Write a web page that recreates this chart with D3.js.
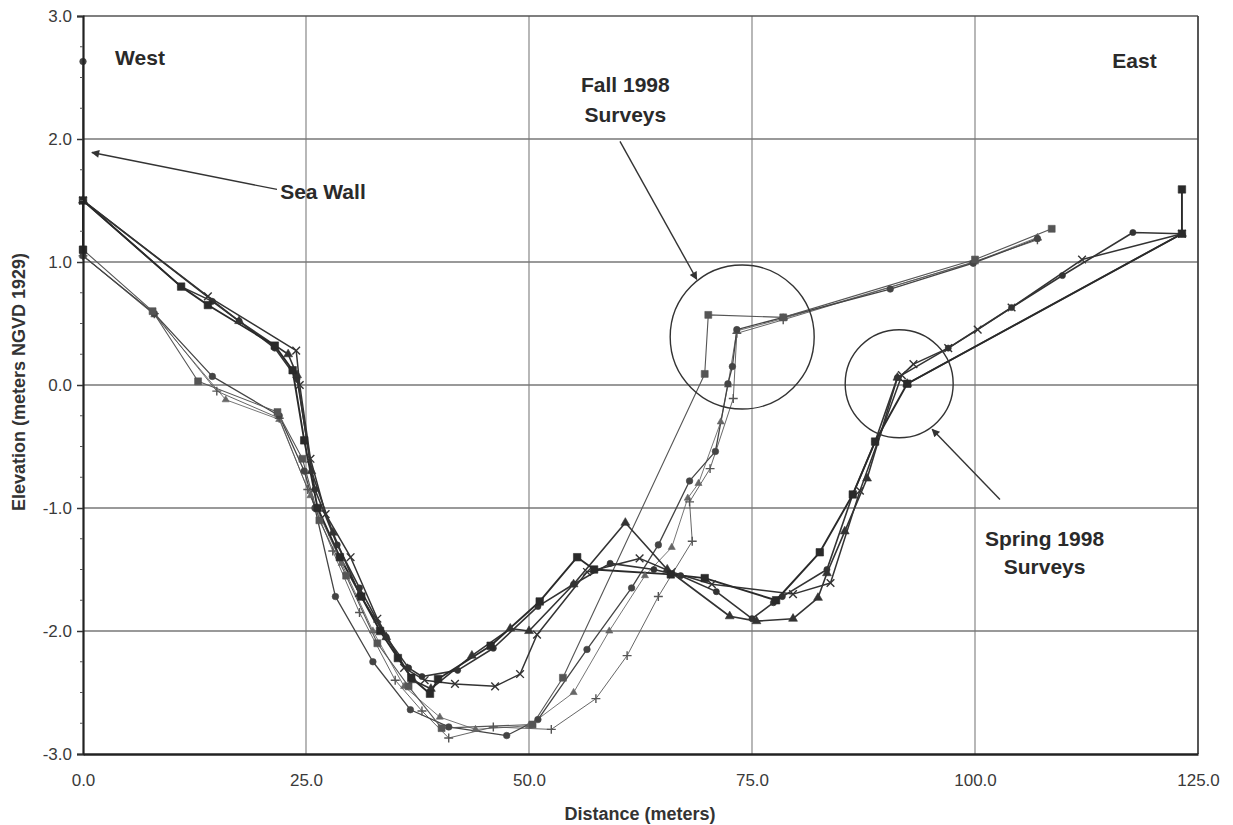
<!DOCTYPE html>
<html>
<head>
<meta charset="utf-8">
<script src="https://cdn.jsdelivr.net/npm/d3@7"></script>
<style>
  body { margin: 0; background: #fff; }
  svg { display: block; font-family: "Liberation Sans", Arial, sans-serif; }
</style>
</head>
<body>
<script>
// tick values
let xTicks = [0, 25, 50, 75, 100, 125];
let yTicks = [-3, -2, -1, 0, 1, 2, 3];

// fall 1998 surveys [distance, elevation]
let fallSquare = [[0,1.1],[7.8,0.6],[12.9,0.03],[21.8,-0.22],[24.6,-0.6],[26.5,-1.1],[29.5,-1.55],[33,-2.1],[36.5,-2.45],[40.2,-2.79],[50.4,-2.76],[53.8,-2.38],[69.7,0.09],[70.1,0.57],[78.5,0.55],[100,1.02],[108.6,1.27]];
let fallCircle = [[0,2.63],[0,1.05],[8,0.58],[14.5,0.07],[22,-0.25],[24.8,-0.7],[26,-1.0],[28.3,-1.72],[32.5,-2.25],[36.7,-2.64],[41,-2.78],[47.5,-2.85],[51,-2.72],[56.5,-2.15],[61.5,-1.65],[64.5,-1.3],[68,-0.78],[70.9,-0.54],[72.3,0.01],[72.8,0.15],[73.3,0.45],[78.5,0.55],[90.5,0.78],[99.8,0.99],[107,1.19]];
let fallPlus = [[0,1.05],[8,0.58],[15,-0.05],[22,-0.27],[25.2,-0.85],[28,-1.35],[31,-1.85],[35,-2.4],[38,-2.65],[41,-2.87],[46,-2.78],[52.5,-2.8],[57.5,-2.55],[61,-2.2],[64.5,-1.72],[68.3,-1.27],[68,-0.95],[70.3,-0.68],[72.9,-0.11],[73.3,0.42],[78.5,0.53],[99.8,1.0],[107,1.18]];
let fallTriangle = [[0,1.05],[8,0.57],[16,-0.12],[22,-0.28],[25.5,-0.9],[29,-1.45],[32.5,-2.0],[36,-2.45],[40,-2.7],[44,-2.8],[50,-2.77],[55,-2.5],[59,-2.0],[63,-1.55],[66,-1.32],[67.8,-0.92],[69,-0.8],[71.5,-0.3],[72.3,0.0],[73.3,0.44],[78.5,0.54],[100,1.0],[107,1.2]];

// spring 1998 surveys [distance, elevation]
let springSquare = [[0,1.1],[0,1.5],[11,0.8],[14,0.65],[21.5,0.32],[23.5,0.12],[24.8,-0.45],[26.3,-1.0],[28.8,-1.4],[31.2,-1.72],[33.3,-2.0],[35.3,-2.22],[36.8,-2.38],[38.9,-2.51],[39.8,-2.39],[45.7,-2.12],[51.2,-1.76],[55.4,-1.4],[57.3,-1.5],[65.9,-1.54],[69.7,-1.57],[77.7,-1.75],[82.6,-1.36],[86.3,-0.89],[88.8,-0.46],[92.4,0.01],[123.2,1.23],[123.2,1.59]];
let springX = [[0,1.5],[14,0.72],[23.9,0.28],[24.3,0.0],[25.5,-0.6],[27.2,-1.05],[30,-1.4],[33,-1.9],[36,-2.3],[38.3,-2.4],[41.7,-2.43],[46.2,-2.45],[49,-2.35],[50.9,-2.03],[56.5,-1.52],[62.4,-1.41],[66,-1.52],[70.5,-1.62],[79.6,-1.7],[83.8,-1.61],[87.1,-0.86],[91.8,0.08],[93.1,0.17],[97,0.3],[100.3,0.45],[104.1,0.63],[112,1.02],[123.2,1.23]];
let springTriangle = [[0,1.5],[17.5,0.52],[23,0.25],[24,0.08],[25.6,-0.7],[28,-1.2],[31,-1.7],[34,-2.05],[37,-2.4],[39,-2.47],[43.6,-2.2],[47.9,-1.98],[50,-2.0],[55,-1.62],[60.8,-1.12],[65.5,-1.5],[72.5,-1.88],[75.5,-1.92],[79.6,-1.9],[82.4,-1.73],[83.4,-1.53],[85.4,-1.19],[87.9,-0.76],[91.3,0.06],[92.4,0.01],[123.2,1.23]];
let springCircle = [[0,1.5],[11,0.8],[14.5,0.68],[17.5,0.52],[21.5,0.3],[24,0.05],[26,-0.85],[28.5,-1.3],[31,-1.65],[34,-2.05],[36.5,-2.3],[38,-2.37],[42,-2.32],[46,-2.14],[51,-1.8],[55,-1.62],[59.1,-1.45],[64,-1.5],[67,-1.55],[71,-1.68],[75,-1.9],[77.4,-1.77],[78.4,-1.72],[83.4,-1.5],[86.3,-0.89],[88.8,-0.46],[91.3,0.06],[97,0.3],[104.1,0.63],[109.8,0.89],[117.7,1.24],[123.2,1.23]];

let W = 1233, H = 825;
let svg = d3.select("body").append("svg").attr("width", W).attr("height", H);

let scaleX = d3.scaleLinear().domain([0, 125]).range([83, 1198]);
let scaleY = d3.scaleLinear().domain([-3, 3]).range([754, 16]);

let timesSym = d3.symbolTimes || d3.symbolX || d3.symbolCross;
let fmt = d => d.toFixed(1);

let series = [
  { pts: fallTriangle, sym: d3.symbolTriangle, size: 22, w: 0.9, col: "#666", stroke: false },
  { pts: fallPlus, sym: d3.symbolPlus || d3.symbolCross, size: 28, w: 0.9, col: "#555", stroke: true },
  { pts: fallCircle, sym: d3.symbolCircle, size: 34, w: 1.3, col: "#444", stroke: false },
  { pts: fallSquare, sym: d3.symbolSquare, size: 48, w: 1.1, col: "#555", stroke: false },
  { pts: springCircle, sym: d3.symbolCircle, size: 30, w: 1.6, col: "#333", stroke: false },
  { pts: springTriangle, sym: d3.symbolTriangle, size: 34, w: 1.6, col: "#333", stroke: false },
  { pts: springX, sym: timesSym, size: 40, w: 1.5, col: "#333", stroke: true },
  { pts: springSquare, sym: d3.symbolSquare, size: 56, w: 1.9, col: "#2a2a2a", stroke: false }
];

let DrawGrid = () =>
{
  let g = svg.append("g").attr("class", "grid");
  g.selectAll(".gx").data(xTicks.slice(1, -1)).enter().append("line")
    .attr("x1", d => scaleX(d)).attr("x2", d => scaleX(d))
    .attr("y1", scaleY(3)).attr("y2", scaleY(-3))
    .attr("stroke", "#888").attr("stroke-width", 1.2);
  g.selectAll(".gy").data(yTicks.slice(1, -1)).enter().append("line")
    .attr("x1", scaleX(0)).attr("x2", scaleX(125))
    .attr("y1", d => scaleY(d)).attr("y2", d => scaleY(d))
    .attr("stroke", "#777").attr("stroke-width", 1.3);
  // frame
  svg.append("line").attr("x1", scaleX(0)).attr("x2", scaleX(125))
    .attr("y1", scaleY(3)).attr("y2", scaleY(3)).attr("stroke", "#555").attr("stroke-width", 1.5);
  svg.append("line").attr("x1", scaleX(125)).attr("x2", scaleX(125))
    .attr("y1", scaleY(3)).attr("y2", scaleY(-3)).attr("stroke", "#444").attr("stroke-width", 1.8);
}

let DrawAxis = () =>
{
  let ay = svg.append("g")
    .attr("transform", "translate(" + scaleX(0) + ",0)")
    .call(d3.axisLeft(scaleY).tickValues(yTicks).tickFormat(fmt).tickSize(6).tickPadding(5));
  ay.select(".domain").attr("stroke", "#222").attr("stroke-width", 2.2);
  ay.selectAll(".tick line").attr("stroke", "#333").attr("stroke-width", 1.5);
  ay.selectAll("text").attr("font-size", "17px").attr("fill", "#3a3a3a");
  // minor ticks
  ay.selectAll(".minor").data(d3.range(-3, 3.01, 0.25).filter(v => Math.abs(v - Math.round(v)) > 0.01))
    .enter().append("line").attr("class", "minor")
    .attr("x1", -3).attr("x2", 0)
    .attr("y1", d => scaleY(d)).attr("y2", d => scaleY(d))
    .attr("stroke", "#555");

  let ax = svg.append("g")
    .attr("transform", "translate(0," + scaleY(-3) + ")")
    .call(d3.axisBottom(scaleX).tickValues(xTicks).tickFormat(fmt).tickSize(0).tickPadding(20));
  ax.select(".domain").attr("stroke", "#222").attr("stroke-width", 2.4);
  ax.selectAll("text").attr("font-size", "17px").attr("fill", "#3a3a3a");
}

let DrawText = () =>
{
  svg.append("text").text("Distance (meters)")
    .attr("x", 640).attr("y", 820)
    .attr("font-size", "18px").attr("font-weight", "bold").attr("fill", "#333")
    .attr("text-anchor", "middle");
  svg.append("text").text("Elevation (meters NGVD 1929)")
    .attr("transform", "translate(25,382) rotate(-90)")
    .attr("font-size", "18px").attr("font-weight", "bold").attr("fill", "#333")
    .attr("text-anchor", "middle");
}

let DrawSeries = () =>
{
  let line = d3.line().x(d => scaleX(d[0])).y(d => scaleY(d[1]));
  series.forEach(s =>
  {
    svg.append("path").datum(s.pts)
      .attr("d", line)
      .attr("fill", "none")
      .attr("stroke", s.col)
      .attr("stroke-width", s.w)
      .attr("stroke-linejoin", "round");
  });
  series.forEach(s =>
  {
    svg.append("g").selectAll("path").data(s.pts).enter().append("path")
      .attr("d", d3.symbol().type(s.sym).size(s.size))
      .attr("transform", d => "translate(" + scaleX(d[0]) + "," + scaleY(d[1]) + ")")
      .attr("fill", s.stroke ? "none" : s.col)
      .attr("stroke", s.col)
      .attr("stroke-width", s.stroke ? 1.4 : 0.6);
  });
}

// annotations, in data units
let labels = [
  { t: "West", x: 3.6, y: 2.6, anchor: "start" },
  { t: "East", x: 115.4, y: 2.58, anchor: "start" },
  { t: "Sea Wall", x: 22.1, y: 1.51, anchor: "start" },
  { t: "Fall 1998", x: 60.8, y: 2.38, anchor: "middle" },
  { t: "Surveys", x: 60.8, y: 2.14, anchor: "middle" },
  { t: "Spring 1998", x: 107.8, y: -1.31, anchor: "middle" },
  { t: "Surveys", x: 107.8, y: -1.54, anchor: "middle" }
];
let arrows = [
  [[21.75, 1.59], [1.0, 1.89]],
  [[60.2, 1.98], [68.8, 0.86]],
  [[102.8, -0.93], [95.2, -0.36]]
];
let rings = [
  { x: 73.9, y: 0.39, r: 72 },
  { x: 91.5, y: 0.01, r: 54 }
];

let DrawNotes = () =>
{
  svg.append("defs").append("marker")
    .attr("id", "head").attr("viewBox", "0 0 10 10")
    .attr("refX", 9).attr("refY", 5)
    .attr("markerWidth", 10).attr("markerHeight", 8)
    .attr("markerUnits", "userSpaceOnUse")
    .attr("orient", "auto")
    .append("path").attr("d", "M0,0 L10,5 L0,10 z").attr("fill", "#333");

  svg.selectAll(".ring").data(rings).enter().append("circle")
    .attr("cx", d => scaleX(d.x)).attr("cy", d => scaleY(d.y)).attr("r", d => d.r)
    .attr("fill", "none").attr("stroke", "#333").attr("stroke-width", 1.4);

  svg.selectAll(".arrow").data(arrows).enter().append("line")
    .attr("x1", d => scaleX(d[0][0])).attr("y1", d => scaleY(d[0][1]))
    .attr("x2", d => scaleX(d[1][0])).attr("y2", d => scaleY(d[1][1]))
    .attr("stroke", "#333").attr("stroke-width", 1.4)
    .attr("marker-end", "url(#head)");

  svg.selectAll(".note").data(labels).enter().append("text")
    .text(d => d.t)
    .attr("x", d => scaleX(d.x)).attr("y", d => scaleY(d.y))
    .attr("text-anchor", d => d.anchor)
    .attr("font-size", "21px")
    .attr("font-weight", "bold")
    .attr("fill", "#2a2a2a");
}

DrawGrid();
DrawSeries();
DrawAxis();
DrawText();
DrawNotes();
</script>
</body>
</html>
